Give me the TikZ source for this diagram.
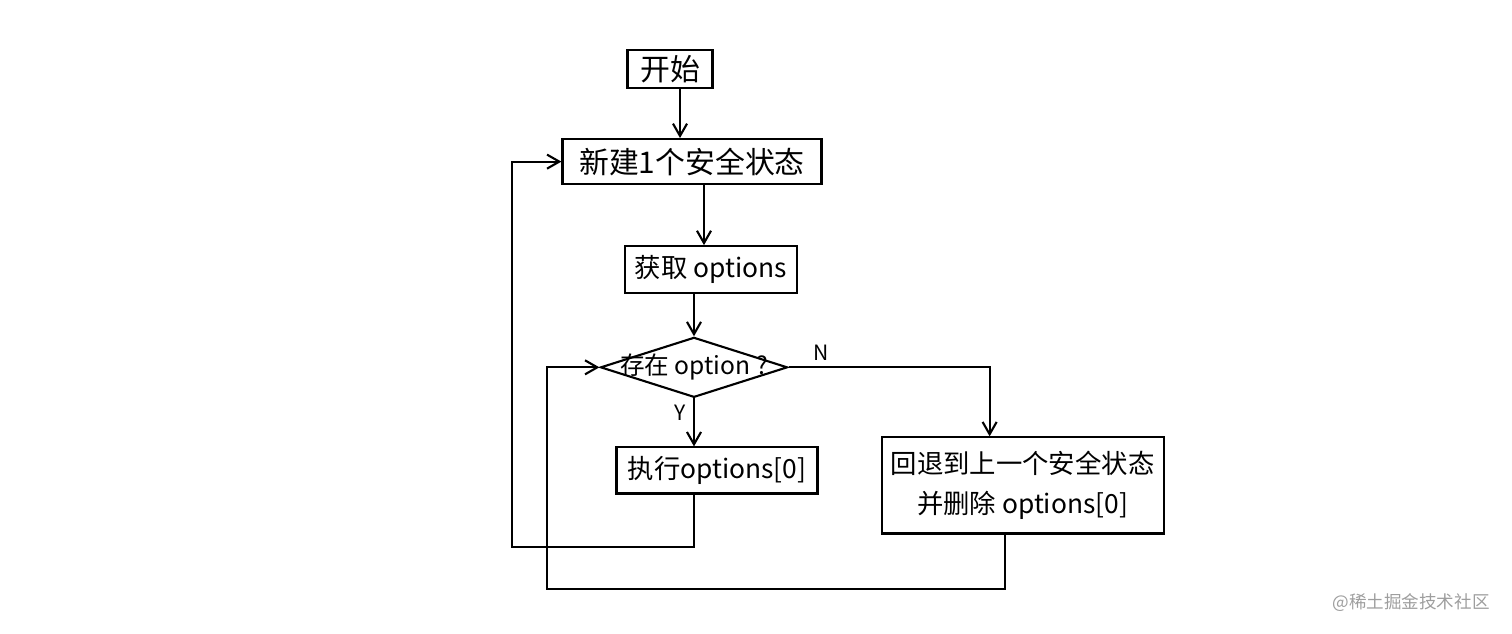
\documentclass[tikz,border=0pt]{standalone}
\usepackage{fontspec}
\usepackage{tikz}
\usetikzlibrary{arrows.meta, shapes.geometric, positioning}
\newfontfamily\cjk{Noto Sans CJK SC}
\definecolor{markgray}{rgb}{0.62, 0.62, 0.62}

\begin{document}
\begin{tikzpicture}[
  stepbox/.style={
    rectangle, draw=black, line width=1.2pt,
    inner xsep=2pt, inner ysep=2pt, align=center,
    font=\cjk\fontsize{15}{23}\selectfont
  },
  bigtext/.style={font=\cjk\fontsize{17}{20}\selectfont},
  decision/.style={
    diamond, draw=black, line width=1.2pt, inner sep=0pt,
    minimum width=3.74cm, minimum height=1.2cm
  },
  lbl/.style={font=\cjk\fontsize{12}{14}\selectfont},
  arr/.style={-{Straight Barb[length=7pt, width=8pt]}, line width=1.2pt}
]
  \useasboundingbox (0,0) rectangle (30.24,-12.66);

  \node[stepbox, bigtext, minimum width=1.7cm, minimum height=0.76cm] (start) at (13.4,-1.38) {开始};
  \node[stepbox, bigtext, minimum width=5.18cm, minimum height=0.9cm, below=0.98cm of start, xshift=0.44cm] (new) {新建1个安全状态};
  \node[stepbox, minimum width=3.44cm, minimum height=0.94cm, below=1.2cm of new, xshift=0.38cm] (get) {获取 options};
  \node[decision, below=0.84cm of get, xshift=-0.34cm,
        label={[font=\cjk\fontsize{14}{16}\selectfont]center:存在 option ?}] (dec) {};
  \node[stepbox, minimum width=4.02cm, minimum height=0.92cm, below=0.96cm of dec, xshift=0.46cm] (exec) {执行options[0]};
  \node[stepbox, minimum width=5.64cm, minimum height=1.92cm, right=1.24cm of exec, yshift=-0.3cm] (back) {回退到上一个安全状态\\并删除 options[0]};

  \coordinate (loopA) at (10.24,-10.94);
  \coordinate (loopB) at (10.94,-11.78);

  \draw[arr] ([xshift=0.2cm]start.south) -- ([xshift=0.2cm]start.south |- new.north);
  \draw[arr] ([xshift=0.24cm]new.south) -- ([xshift=0.24cm]new.south |- get.north);
  \draw[arr] (get.south -| dec.north) -- (dec.north);
  \draw[arr] (dec.south) -- node[lbl, pos=0.3, left=1pt]{Y} (dec.south |- exec.north);
  \draw[arr] (dec.east) -| node[lbl, pos=0.08, above]{N} ([xshift=-0.66cm]back.north);

  \draw[arr] (exec.south -| dec.south) |- (loopA) |- (new.west);
  \draw[arr] ([xshift=-0.36cm]back.south) |- (loopB) |- (dec.west);

  \node[font=\cjk\fontsize{10}{12}\selectfont, text=markgray] (mark) at (28.22,-12.06) {@稀土掘金技术社区};
\end{tikzpicture}
\end{document}
